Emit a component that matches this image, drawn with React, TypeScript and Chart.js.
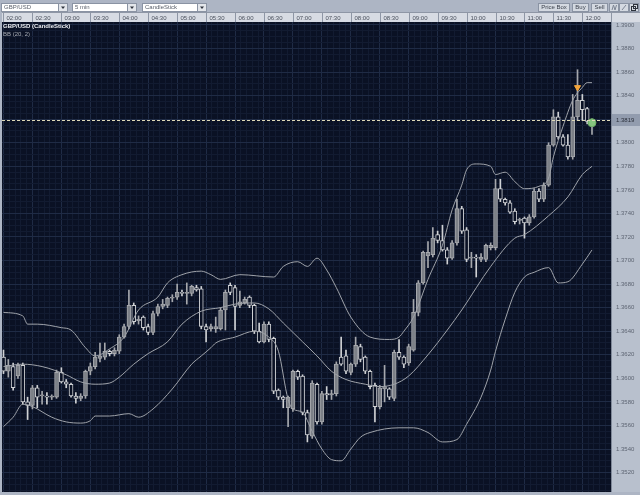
import React, { useEffect, useRef } from 'react';
import { Chart, registerables } from 'chart.js';

Chart.register(...registerables);

// ---------- data ----------
const SYMBOL = 'GBP/USD';
const INTERVAL = '5 min';
const CHART_TYPE = 'CandleStick';
const SERIES_TITLE = 'GBP/USD (CandleStick)';
const INDICATOR_TITLE = 'BB (20, 2)';
const TIME_LABELS = ['02:00', '02:30', '03:00', '03:30', '04:00', '04:30', '05:00', '05:30', '06:00', '06:30', '07:00',
  '07:30', '08:00', '08:30', '09:00', '09:30', '10:00', '10:30', '11:00', '11:30', '12:00'];
const CANDLES_PER_LABEL = 6;

const OPEN = [
  1.3618, 1.3606, 1.3610, 1.3602, 1.3611, 1.3580, 1.3577, 1.3592, 1.3585, 1.3585,
  1.3584, 1.3584, 1.3605, 1.3597, 1.3595, 1.3585, 1.3583, 1.3585, 1.3606, 1.3610,
  1.3617, 1.3618, 1.3623, 1.3621, 1.3623, 1.3635, 1.3644, 1.3662, 1.3649, 1.3652,
  1.3644, 1.3639, 1.3655, 1.3661, 1.3662, 1.3668, 1.3669, 1.3673, 1.3672, 1.3672,
  1.3677, 1.3676, 1.3644, 1.3642, 1.3642, 1.3642, 1.3658, 1.3679, 1.3677, 1.3662,
  1.3664, 1.3669, 1.3662, 1.3640, 1.3631, 1.3646, 1.3634, 1.3590, 1.3584, 1.3575,
  1.3574, 1.3606, 1.3602, 1.3571, 1.3551, 1.3595, 1.3563, 1.3587, 1.3586, 1.3587,
  1.3618, 1.3619, 1.3605, 1.3612, 1.3627, 1.3618, 1.3606, 1.3594, 1.3576, 1.3591,
  1.3591, 1.3583, 1.3622, 1.3618, 1.3613, 1.3624, 1.3656, 1.3681, 1.3704, 1.3705,
  1.3722, 1.3717, 1.3709, 1.3702, 1.3715, 1.3744, 1.3726, 1.3702, 1.3703, 1.3701,
  1.3701, 1.3711, 1.3711, 1.3761, 1.3752, 1.3749, 1.3742, 1.3734, 1.3736, 1.3732,
  1.3737, 1.3759, 1.3752, 1.3764, 1.3798, 1.3822, 1.3805, 1.3798, 1.3788, 1.3822,
  1.3836, 1.3829, 1.3818];
const HIGH = [
  1.3624, 1.3616, 1.3613, 1.3613, 1.3613, 1.3584, 1.3594, 1.3594, 1.3589, 1.3588,
  1.3586, 1.3607, 1.3609, 1.3599, 1.3596, 1.3588, 1.3587, 1.3607, 1.3613, 1.3622,
  1.3630, 1.3630, 1.3624, 1.3626, 1.3637, 1.3646, 1.3675, 1.3664, 1.3653, 1.3653,
  1.3646, 1.3657, 1.3663, 1.3667, 1.3669, 1.3671, 1.3680, 1.3675, 1.3681, 1.3679,
  1.3679, 1.3678, 1.3646, 1.3646, 1.3652, 1.3660, 1.3675, 1.3681, 1.3679, 1.3674,
  1.3669, 1.3670, 1.3663, 1.3647, 1.3648, 1.3648, 1.3635, 1.3591, 1.3585, 1.3585,
  1.3607, 1.3607, 1.3603, 1.3573, 1.3598, 1.3596, 1.3589, 1.3593, 1.3590, 1.3614,
  1.3635, 1.3624, 1.3613, 1.3635, 1.3629, 1.3619, 1.3607, 1.3596, 1.3594, 1.3611,
  1.3592, 1.3624, 1.3633, 1.3619, 1.3629, 1.3667, 1.3683, 1.3708, 1.3716, 1.3728,
  1.3725, 1.3730, 1.3711, 1.3717, 1.3752, 1.3746, 1.3728, 1.3707, 1.3705, 1.3706,
  1.3714, 1.3715, 1.3769, 1.3769, 1.3753, 1.3751, 1.3744, 1.3736, 1.3737, 1.3739,
  1.3761, 1.3761, 1.3766, 1.3800, 1.3828, 1.3826, 1.3807, 1.3807, 1.3841, 1.3862,
  1.3841, 1.3830, 1.3820];
const LOW = [
  1.3604, 1.3601, 1.3590, 1.3600, 1.3578, 1.3565, 1.3574, 1.3575, 1.3578, 1.3578,
  1.3582, 1.3583, 1.3596, 1.3592, 1.3584, 1.3579, 1.3581, 1.3583, 1.3603, 1.3608,
  1.3614, 1.3616, 1.3619, 1.3619, 1.3621, 1.3634, 1.3642, 1.3646, 1.3646, 1.3641,
  1.3637, 1.3637, 1.3653, 1.3659, 1.3660, 1.3665, 1.3667, 1.3670, 1.3663, 1.3670,
  1.3674, 1.3642, 1.3631, 1.3640, 1.3639, 1.3641, 1.3641, 1.3671, 1.3641, 1.3660,
  1.3663, 1.3660, 1.3638, 1.3630, 1.3630, 1.3631, 1.3587, 1.3582, 1.3575, 1.3559,
  1.3572, 1.3599, 1.3569, 1.3546, 1.3549, 1.3561, 1.3561, 1.3582, 1.3582, 1.3585,
  1.3611, 1.3604, 1.3603, 1.3610, 1.3614, 1.3604, 1.3591, 1.3563, 1.3574, 1.3580,
  1.3582, 1.3581, 1.3616, 1.3609, 1.3611, 1.3623, 1.3653, 1.3680, 1.3694, 1.3703,
  1.3715, 1.3708, 1.3697, 1.3701, 1.3713, 1.3723, 1.3699, 1.3694, 1.3686, 1.3699,
  1.3699, 1.3709, 1.3709, 1.3750, 1.3747, 1.3740, 1.3731, 1.3731, 1.3719, 1.3730,
  1.3736, 1.3750, 1.3750, 1.3763, 1.3797, 1.3803, 1.3797, 1.3786, 1.3786, 1.3819,
  1.3819, 1.3816, 1.3807];
const CLOSE = [
  1.3606, 1.3611, 1.3592, 1.3611, 1.3580, 1.3577, 1.3592, 1.3584, 1.3586, 1.3584,
  1.3585, 1.3605, 1.3597, 1.3595, 1.3585, 1.3583, 1.3585, 1.3606, 1.3610, 1.3618,
  1.3619, 1.3623, 1.3621, 1.3624, 1.3635, 1.3644, 1.3662, 1.3648, 1.3650, 1.3643,
  1.3639, 1.3655, 1.3661, 1.3663, 1.3668, 1.3669, 1.3673, 1.3672, 1.3673, 1.3678,
  1.3675, 1.3644, 1.3641, 1.3644, 1.3644, 1.3658, 1.3673, 1.3673, 1.3661, 1.3665,
  1.3667, 1.3662, 1.3640, 1.3631, 1.3646, 1.3633, 1.3589, 1.3584, 1.3582, 1.3584,
  1.3606, 1.3601, 1.3571, 1.3552, 1.3596, 1.3563, 1.3587, 1.3586, 1.3587, 1.3612,
  1.3612, 1.3606, 1.3612, 1.3628, 1.3616, 1.3606, 1.3593, 1.3576, 1.3592, 1.3593,
  1.3584, 1.3622, 1.3618, 1.3612, 1.3627, 1.3656, 1.3681, 1.3707, 1.3707, 1.3719,
  1.3717, 1.3709, 1.3702, 1.3715, 1.3744, 1.3725, 1.3701, 1.3703, 1.3702, 1.3703,
  1.3713, 1.3713, 1.3761, 1.3752, 1.3749, 1.3741, 1.3733, 1.3735, 1.3732, 1.3737,
  1.3759, 1.3752, 1.3764, 1.3798, 1.3822, 1.3805, 1.3798, 1.3788, 1.3822, 1.3836,
  1.3828, 1.3818, 1.3819];

// Bollinger bands at selected candles
const BB_UPPER_INDEX = [0, 4, 5, 7, 12, 14, 17, 19, 22, 25, 28, 32, 34, 37, 41, 43, 45, 49, 56, 58,
  61, 63, 65, 67, 69, 72, 76, 80, 82, 83, 85, 88, 91, 93, 95, 96, 98, 101, 102, 104,
  106, 108, 111, 113, 114, 116, 118, 120, 121, 122];
const BB_UPPER = [1.3656, 1.3653, 1.3646, 1.3646, 1.3643, 1.3641, 1.3626, 1.3619, 1.3625, 1.3635,
  1.3658, 1.3669, 1.3681, 1.3688, 1.3691, 1.3688, 1.3684, 1.3688, 1.3686, 1.3695,
  1.3699, 1.3695, 1.3702, 1.3692, 1.3677, 1.3652, 1.3635, 1.3633, 1.3635, 1.3640,
  1.3652, 1.3684, 1.3713, 1.3743, 1.3764, 1.3777, 1.3782, 1.3780, 1.3773, 1.3775,
  1.3767, 1.3761, 1.3763, 1.3770, 1.3788, 1.3814, 1.3836, 1.3847, 1.3851, 1.3851];
const BB_MIDDLE_INDEX = [0, 4, 8, 13, 16, 19, 22, 24, 27, 30, 34, 37, 41, 45, 48, 52, 55, 58, 62, 65,
  68, 71, 75, 78, 81, 84, 88, 92, 95, 101, 106, 108, 113, 117, 120, 122];
const BB_MIDDLE = [1.3610, 1.3612, 1.3610, 1.3603, 1.3597, 1.3595, 1.3596, 1.3601, 1.3612, 1.3621,
  1.3631, 1.3646, 1.3657, 1.3660, 1.3663, 1.3664, 1.3659, 1.3647, 1.3631, 1.3619,
  1.3606, 1.3599, 1.3595, 1.3593, 1.3595, 1.3602, 1.3620, 1.3641, 1.3658, 1.3695,
  1.3719, 1.3722, 1.3738, 1.3754, 1.3773, 1.3780];
const BB_LOWER_INDEX = [0, 2, 4, 6, 10, 13, 16, 18, 19, 22, 26, 28, 31, 35, 39, 41, 43, 44, 48, 52,
  55, 57, 59, 60, 62, 64, 66, 68, 70, 72, 74, 76, 82, 85, 88, 91, 94, 96, 99, 101,
  102, 104, 106, 108, 110, 113, 115, 117, 120, 122];
const BB_LOWER = [1.3559, 1.3567, 1.3578, 1.3576, 1.3567, 1.3563, 1.3562, 1.3564, 1.3568, 1.3568,
  1.3570, 1.3567, 1.3574, 1.3591, 1.3612, 1.3619, 1.3626, 1.3630, 1.3635, 1.3640,
  1.3635, 1.3623, 1.3582, 1.3574, 1.3571, 1.3555, 1.3540, 1.3531, 1.3530, 1.3540,
  1.3550, 1.3554, 1.3558, 1.3558, 1.3554, 1.3546, 1.3548, 1.3561, 1.3584, 1.3607,
  1.3623, 1.3650, 1.3673, 1.3686, 1.3690, 1.3694, 1.3681, 1.3682, 1.3697, 1.3709];

const ARROW_INDEX = 119;
const ARROW_PRICE = 1.3847;
const DOT_INDEX = 122;
const DOT_PRICE = 1.3817;

// ---------- axes ----------
const Y_MIN = 1.35035;
const Y_MAX = 1.39025;
const Y_STEP = 0.0005;
const Y_LABEL_STEP = 0.002;
const X_MIN = -0.31;
const X_MAX = 125.94;
const X_STEP = 1.2;

// ---------- style ----------
const FONT = '"Liberation Sans", Arial, sans-serif';
const FRAME_BG = '#adb5c4';
const PLOT_BG = '#0a1124';
const AXIS_BG = '#b8c0cd';
const HEADER_BG = '#d7dbe3';
const GRID_MAJOR = '#1f2b45';
const GRID_MINOR = '#121b31';
const BAND_COLOR = '#9fa3aa';
const UP_FILL = '#7c8087';
const UP_LINE = '#a6a8ad';
const DOWN_FILL = PLOT_BG;
const DOWN_LINE = '#cfd1d4';

const near = (v: number, step: number) => Math.abs(v / step - Math.round(v / step)) < 1e-6;

function dropdown(ctx: CanvasRenderingContext2D, x: number, w: number, text: string) {
  ctx.fillStyle = '#ffffff';
  ctx.fillRect(x, 3, w, 9);
  ctx.strokeStyle = '#8a93a3';
  ctx.strokeRect(x + 0.5, 3.5, w - 1, 8);
  const bx = x + w - 10;
  ctx.fillStyle = '#e3e6eb';
  ctx.fillRect(bx, 3, 10, 9);
  ctx.strokeRect(bx + 0.5, 3.5, 9, 8);
  ctx.fillStyle = '#2d323c';
  ctx.beginPath();
  ctx.moveTo(bx + 3, 6.5);
  ctx.lineTo(bx + 7, 6.5);
  ctx.lineTo(bx + 5, 9);
  ctx.closePath();
  ctx.fill();
  ctx.fillStyle = '#5a606b';
  ctx.textAlign = 'left';
  ctx.fillText(text, x + 3, 7.8);
}

function button(ctx: CanvasRenderingContext2D, x: number, w: number, text: string) {
  ctx.fillStyle = '#d4d9e1';
  ctx.fillRect(x, 3, w, 9);
  ctx.strokeStyle = '#8a93a3';
  ctx.strokeRect(x + 0.5, 3.5, w - 1, 8);
  ctx.fillStyle = '#3c424d';
  ctx.textAlign = 'center';
  ctx.fillText(text, x + w / 2, 7.8);
}

const framePlugin = {
  id: 'frame',
  beforeDraw(chart: any) {
    const { ctx, chartArea: a, width, height } = chart;
    const xs = chart.scales.x;
    ctx.save();
    ctx.fillStyle = FRAME_BG;
    ctx.fillRect(0, 0, width, height);
    ctx.fillStyle = PLOT_BG;
    ctx.fillRect(a.left, a.top, a.right - a.left, a.bottom - a.top);
    ctx.fillStyle = AXIS_BG;
    ctx.fillRect(a.right, a.top, width - a.right, a.bottom - a.top);
    ctx.lineWidth = 1;
    ctx.strokeStyle = '#7f8898';
    ctx.beginPath();
    ctx.moveTo(a.right + 0.5, a.top);
    ctx.lineTo(a.right + 0.5, a.bottom);
    ctx.stroke();

    // time header
    const hy = 13;
    const hh = 9;
    ctx.fillStyle = HEADER_BG;
    ctx.fillRect(a.left, hy, width - a.left, hh);
    ctx.strokeStyle = '#8e96a5';
    ctx.beginPath();
    ctx.moveTo(a.left, hy - 0.5);
    ctx.lineTo(width, hy - 0.5);
    ctx.stroke();
    ctx.font = `6px ${FONT}`;
    ctx.textBaseline = 'middle';
    TIME_LABELS.forEach((t, k) => {
      const x = Math.round(xs.getPixelForValue(k * CANDLES_PER_LABEL)) + 0.5;
      ctx.strokeStyle = '#8e96a5';
      ctx.beginPath();
      ctx.moveTo(x, hy);
      ctx.lineTo(x, hy + hh);
      ctx.stroke();
      ctx.fillStyle = '#4a505c';
      ctx.textAlign = 'left';
      ctx.fillText(t, x + 3, hy + hh / 2 + 0.5);
    });
    ctx.strokeStyle = '#8e96a5';
    ctx.beginPath();
    ctx.moveTo(a.right + 0.5, hy);
    ctx.lineTo(a.right + 0.5, hy + hh);
    ctx.stroke();

    // toolbar
    dropdown(ctx, 1, 67, SYMBOL);
    dropdown(ctx, 72, 65, INTERVAL);
    dropdown(ctx, 142, 65, CHART_TYPE);
    button(ctx, 538, 32, 'Price Box');
    button(ctx, 572, 17, 'Buy');
    button(ctx, 591, 17, 'Sell');
    button(ctx, 609, 10, '');
    button(ctx, 619, 10, '');
    button(ctx, 629, 10, '');
    ctx.strokeStyle = '#7d8594';
    ctx.beginPath();
    ctx.moveTo(612, 10); ctx.lineTo(613.5, 5); ctx.lineTo(615, 10); ctx.lineTo(616.5, 5);
    ctx.moveTo(622, 10); ctx.lineTo(626, 5);
    ctx.stroke();
    ctx.strokeStyle = '#2d323c';
    ctx.strokeRect(631.5, 6.5, 4, 4);
    ctx.strokeRect(633.5, 4.5, 4, 4);
    ctx.restore();
  },
  afterDatasetsDraw(chart: any) {
    const { ctx, chartArea: a } = chart;
    const ys = chart.scales.y;
    const y = Math.round(ys.getPixelForValue(CLOSE[CLOSE.length - 1])) + 0.5;
    ctx.save();
    ctx.strokeStyle = '#ddd8b6';
    ctx.lineWidth = 1;
    ctx.setLineDash([3, 2]);
    ctx.beginPath();
    ctx.moveTo(a.left, y);
    ctx.lineTo(a.right, y);
    ctx.stroke();
    ctx.restore();
  },
  afterDraw(chart: any) {
    const { ctx, chartArea: a, width } = chart;
    const ys = chart.scales.y;
    ctx.save();
    ctx.font = `bold 6px ${FONT}`;
    ctx.textBaseline = 'top';
    ctx.textAlign = 'left';
    ctx.fillStyle = '#eceef2';
    ctx.fillText(SERIES_TITLE, a.left + 1, a.top + 1);
    ctx.font = `6px ${FONT}`;
    ctx.fillStyle = '#a5a9b1';
    ctx.fillText(INDICATOR_TITLE, a.left + 1, a.top + 9);

    const last = CLOSE[CLOSE.length - 1];
    const y = Math.round(ys.getPixelForValue(last));
    ctx.fillStyle = '#929cae';
    ctx.fillRect(a.right + 1, y - 6, width - a.right - 1, 12);
    ctx.textBaseline = 'middle';
    ctx.fillStyle = '#2b303b';
    ctx.fillText(last.toFixed(4), a.right + 5, y + 0.5);
    ctx.restore();
  },
};

export default function App() {
  const ref = useRef<HTMLCanvasElement>(null);

  useEffect(() => {
    document.body.style.margin = '0';
    const canvas = ref.current;
    if (!canvas) return;
    const idx = CLOSE.map((_, i) => i);
    const up = idx.map((i) => CLOSE[i] >= OPEN[i]);
    const band = (ix: number[], vals: number[], label: string) => ({
      type: 'line' as const,
      label,
      data: ix.map((x, k) => ({ x, y: vals[k] })),
      borderColor: BAND_COLOR,
      borderWidth: 1,
      pointRadius: 0,
      fill: false,
      cubicInterpolationMode: 'monotone' as const,
      order: 0,
    });

    const chart = new Chart(canvas, {
      type: 'bar',
      data: {
        datasets: [
          {
            type: 'scatter',
            label: 'marker',
            data: [{ x: ARROW_INDEX, y: ARROW_PRICE }],
            pointStyle: 'triangle',
            rotation: 180,
            pointRadius: 3.5,
            backgroundColor: '#f3a53c',
            borderColor: '#f3a53c',
            order: -2,
          } as any,
          {
            type: 'scatter',
            label: 'last',
            data: [{ x: DOT_INDEX, y: DOT_PRICE }],
            pointStyle: 'circle',
            pointRadius: 4,
            backgroundColor: '#86c57e',
            borderColor: '#6fae68',
            borderWidth: 1,
            order: -1,
          } as any,
          band(BB_UPPER_INDEX, BB_UPPER, 'BB upper'),
          band(BB_MIDDLE_INDEX, BB_MIDDLE, 'BB middle'),
          band(BB_LOWER_INDEX, BB_LOWER, 'BB lower'),
          {
            type: 'bar',
            label: 'body',
            data: idx.map((i) => ({ x: i, y: [OPEN[i], CLOSE[i]] })) as any,
            backgroundColor: idx.map((i) => (up[i] ? UP_FILL : DOWN_FILL)),
            borderColor: idx.map((i) => (up[i] ? UP_LINE : DOWN_LINE)),
            borderWidth: 1,
            borderSkipped: false,
            barThickness: 4,
            grouped: false,
            order: 1,
          } as any,
          {
            type: 'bar',
            label: 'wick',
            data: idx.map((i) => ({ x: i, y: [LOW[i], HIGH[i]] })) as any,
            backgroundColor: idx.map((i) => (up[i] ? UP_LINE : DOWN_LINE)),
            borderWidth: 0,
            barThickness: 1,
            grouped: false,
            order: 2,
          } as any,
        ],
      },
      options: {
        animation: false,
        responsive: false,
        devicePixelRatio: 1,
        layout: { autoPadding: false, padding: { top: 22, left: 2, right: 0, bottom: 3 } },
        plugins: { legend: { display: false }, tooltip: { enabled: false }, title: { display: false } },
        scales: {
          x: {
            type: 'linear',
            min: X_MIN,
            max: X_MAX,
            offset: false,
            border: { display: false },
            grid: {
              offset: false,
              drawTicks: false,
              color: (c: any) => (c.tick && near(c.tick.value, CANDLES_PER_LABEL) ? GRID_MAJOR : GRID_MINOR),
            },
            ticks: { display: false, stepSize: X_STEP, includeBounds: false },
            afterFit: (s: any) => { s.height = 0; s.paddingLeft = 0; s.paddingRight = 0; },
          },
          y: {
            type: 'linear',
            position: 'right',
            min: Y_MIN,
            max: Y_MAX,
            border: { display: false },
            grid: {
              drawTicks: false,
              color: (c: any) => (c.tick && near(c.tick.value, Y_LABEL_STEP) ? GRID_MAJOR : GRID_MINOR),
            },
            ticks: {
              stepSize: Y_STEP,
              includeBounds: false,
              autoSkip: false,
              padding: 5,
              color: '#5d6472',
              font: { family: FONT, size: 6 },
              callback: (v: any) => (near(Number(v), Y_LABEL_STEP) ? Number(v).toFixed(4) : ''),
            },
            afterFit: (s: any) => { s.width = 29; s.paddingTop = 0; s.paddingBottom = 0; },
          },
        },
      } as any,
      plugins: [framePlugin],
    });
    return () => chart.destroy();
  }, []);

  return <canvas ref={ref} width={640} height={495} style={{ display: 'block' }} />;
}
